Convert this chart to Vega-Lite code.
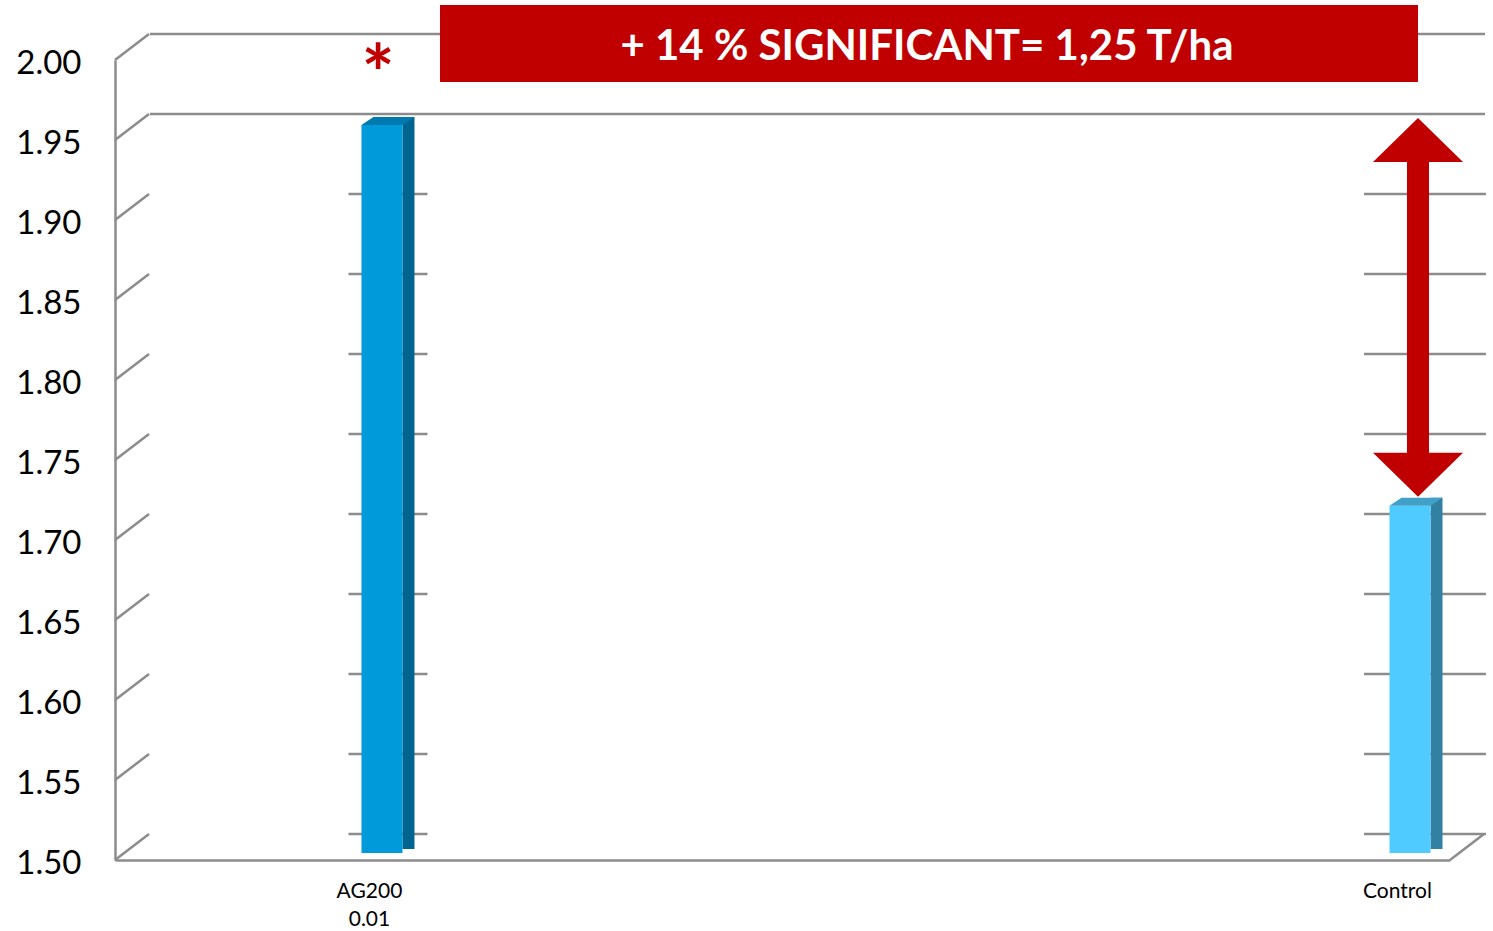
{
  "$schema": "https://vega.github.io/schema/vega-lite/v6.json",
  "width": 1335,
  "height": 800,
  "autosize": {"type": "none"},
  "padding": {"left": 115, "top": 60, "right": 43, "bottom": 71},
  "background": "white",
  "config": {"view": {"stroke": null}, "font": "Lato"},
  "datasets": {
    "bars": [
      {"category": "AG200 0.01", "yield": 1.955, "sig": "*"},
      {"category": "Control", "yield": 1.717, "sig": ""}
    ],
    "grid": [
      {"v": 1.5}, {"v": 1.55}, {"v": 1.6}, {"v": 1.65}, {"v": 1.7}, {"v": 1.75},
      {"v": 1.8}, {"v": 1.85}, {"v": 1.9}, {"v": 1.95}, {"v": 2.0}
    ],
    "note": [
      {"start": "AG200 0.01", "category": "Control", "from": 1.955, "to": 1.717, "label": "+ 14 % SIGNIFICANT= 1,25 T/ha"}
    ]
  },
  "layer": [
    {
      "data": {"name": "bars"},
      "mark": {"type": "bar", "width": 41, "yOffset": -7, "y2Offset": -7},
      "encoding": {
        "x": {
          "field": "category", "type": "nominal",
          "scale": {"type": "point", "padding": 0.1493, "align": 0.8697},
          "axis": {
            "title": null, "labelAngle": 0, "ticks": false, "grid": false,
            "domain": true, "domainColor": "#8C8C8C", "domainWidth": 2.5,
            "labelFont": "Lato", "labelFontSize": 21, "labelColor": "#000000",
            "labelPadding": 20, "labelOffset": -13, "labelLineHeight": 28,
            "labelExpr": "split(datum.label, ' ')"
          }
        },
        "y": {
          "field": "yield", "type": "quantitative",
          "scale": {"domain": [1.5, 2.0], "zero": false, "nice": false},
          "axis": {
            "title": null, "values": [1.5, 1.55, 1.6, 1.65, 1.7, 1.75, 1.8, 1.85, 1.9, 1.95, 2.0],
            "format": ".2f", "ticks": false, "grid": false,
            "domain": true, "domainColor": "#8C8C8C", "domainWidth": 2.5,
            "labelFont": "Lato", "labelFontSize": 33, "labelColor": "#000000",
            "labelPadding": 34, "labelOffset": 3
          }
        },
        "y2": {"datum": 1.5},
        "color": {"value": "#FFFFFF"},
        "opacity": {"value": 0}
      }
    },
    {
      "data": {"name": "grid"},
      "transform": [{"filter": "datum.v >= 1.949"}],
      "mark": {"type": "rule", "color": "#8C8C8C", "strokeWidth": 2.5, "yOffset": -26},
      "encoding": {
        "x": {"value": 35},
        "x2": {"value": 1370},
        "y": {"field": "v", "type": "quantitative", "title": null}
      }
    },
    {
      "data": {"name": "grid"},
      "transform": [{"filter": "datum.v < 1.949"}],
      "mark": {"type": "tick", "orient": "horizontal", "color": "#8C8C8C", "thickness": 2.5, "size": 79, "xOffset": 6, "yOffset": -26, "opacity": 1},
      "encoding": {
        "x": {"datum": "AG200 0.01", "type": "nominal", "title": null},
        "y": {"field": "v", "type": "quantitative", "title": null}
      }
    },
    {
      "data": {"name": "grid"},
      "transform": [{"filter": "datum.v < 1.949"}],
      "mark": {"type": "tick", "orient": "horizontal", "color": "#8C8C8C", "thickness": 2.5, "size": 122, "xOffset": 15, "yOffset": -26, "opacity": 1},
      "encoding": {
        "x": {"datum": "Control", "type": "nominal", "title": null},
        "y": {"field": "v", "type": "quantitative", "title": null}
      }
    },
    {
      "data": {"name": "grid"},
      "mark": {"type": "rule", "color": "#8C8C8C", "strokeWidth": 2.5, "y2Offset": -26},
      "encoding": {
        "x": {"value": 0},
        "x2": {"value": 34},
        "y": {"field": "v", "type": "quantitative", "title": null},
        "y2": {"field": "v"}
      }
    },
    {
      "data": {"values": [{}]},
      "mark": {"type": "rule", "color": "#8C8C8C", "strokeWidth": 2.5, "y2Offset": -26},
      "encoding": {
        "x": {"value": 1335},
        "x2": {"value": 1369},
        "y": {"datum": 1.5, "type": "quantitative", "title": null},
        "y2": {"datum": 1.5}
      }
    },
    {
      "data": {"name": "bars"},
      "mark": {"type": "bar", "width": 12, "xOffset": 26.5, "yOffset": -15, "y2Offset": -11},
      "encoding": {
        "x": {"field": "category", "type": "nominal", "title": null},
        "y": {"field": "yield", "type": "quantitative", "title": null},
        "y2": {"datum": 1.5},
        "color": {"condition": {"test": "datum.category == 'Control'", "value": "#3381A2"}, "value": "#006490"}
      }
    },
    {
      "data": {"name": "bars"},
      "mark": {"type": "bar", "width": 41, "yOffset": -7, "y2Offset": -7},
      "encoding": {
        "x": {"field": "category", "type": "nominal", "title": null},
        "y": {"field": "yield", "type": "quantitative", "title": null},
        "y2": {"datum": 1.5},
        "color": {"condition": {"test": "datum.category == 'Control'", "value": "#50CBFF"}, "value": "#009ADB"}
      }
    },
    {
      "data": {"name": "bars"},
      "mark": {"type": "point", "shape": "M -0.586 0 L 0.586 0 L 0.929 -0.229 L -0.243 -0.229 Z", "size": 4900, "filled": true, "opacity": 1, "strokeWidth": 0, "yOffset": -7},
      "encoding": {
        "x": {"field": "category", "type": "nominal", "title": null},
        "y": {"field": "yield", "type": "quantitative", "title": null},
        "color": {"condition": {"test": "datum.category == 'Control'", "value": "#40A0C8"}, "value": "#0079B0"}
      }
    },
    {
      "data": {"name": "bars"},
      "mark": {"type": "text", "font": "Lato", "fontWeight": "bold", "fontSize": 78, "color": "#C00000", "baseline": "alphabetic", "align": "center", "dx": -4, "dy": -30},
      "encoding": {
        "x": {"field": "category", "type": "nominal", "title": null},
        "y": {"field": "yield", "type": "quantitative", "title": null},
        "text": {"field": "sig"}
      }
    },
    {
      "data": {"name": "note"},
      "mark": {"type": "rule", "color": "#C00000", "strokeWidth": 22, "strokeCap": "butt", "xOffset": 8, "yOffset": 10, "y2Offset": -40},
      "encoding": {
        "x": {"field": "category", "type": "nominal", "title": null},
        "y": {"field": "from", "type": "quantitative", "title": null},
        "y2": {"field": "to"}
      }
    },
    {
      "data": {"name": "note"},
      "mark": {"type": "point", "shape": "M -1 0.489 L 0 -0.489 L 1 0.489 Z", "size": 8100, "filled": true, "opacity": 1, "strokeWidth": 0, "color": "#C00000", "xOffset": 8, "yOffset": 8},
      "encoding": {
        "x": {"field": "category", "type": "nominal", "title": null},
        "y": {"field": "from", "type": "quantitative", "title": null}
      }
    },
    {
      "data": {"name": "note"},
      "mark": {"type": "point", "shape": "M -1 -0.489 L 1 -0.489 L 0 0.489 Z", "size": 8100, "filled": true, "opacity": 1, "strokeWidth": 0, "color": "#C00000", "xOffset": 8, "yOffset": -38},
      "encoding": {
        "x": {"field": "category", "type": "nominal", "title": null},
        "y": {"field": "to", "type": "quantitative", "title": null}
      }
    },
    {
      "data": {"name": "note"},
      "mark": {"type": "rect", "color": "#C00000", "xOffset": 58, "x2Offset": 8, "yOffset": -55, "y2Offset": 22},
      "encoding": {
        "x": {"field": "start", "type": "nominal", "title": null},
        "x2": {"field": "category"},
        "y": {"datum": 2.0, "type": "quantitative", "title": null},
        "y2": {"datum": 2.0}
      }
    },
    {
      "data": {"name": "note"},
      "mark": {"type": "text", "font": "Lato", "fontWeight": "bold", "fontSize": 42, "color": "#FFFFFF", "baseline": "middle", "align": "center", "dx": 545, "dy": -13},
      "encoding": {
        "x": {"field": "start", "type": "nominal", "title": null},
        "y": {"datum": 2.0, "type": "quantitative", "title": null},
        "text": {"field": "label"}
      }
    }
  ]
}
